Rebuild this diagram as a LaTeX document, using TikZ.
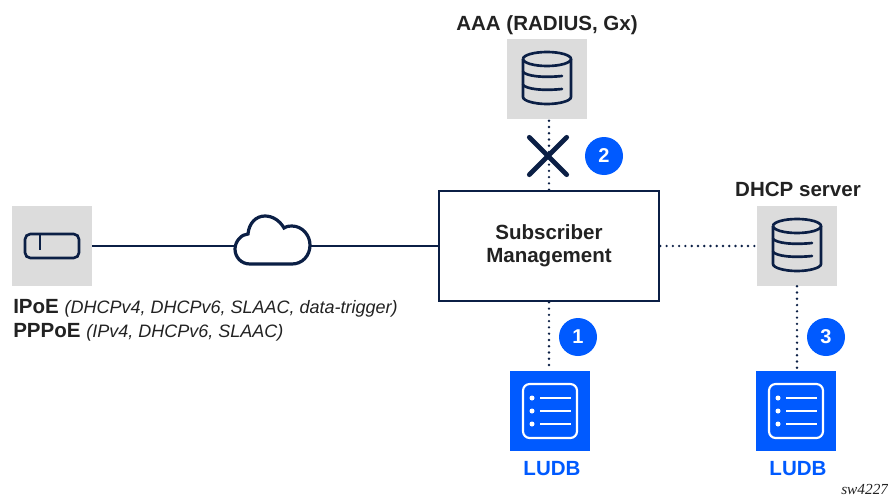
\documentclass[tikz,border=0pt]{standalone}
\usepackage{fontspec}
\setmainfont{Liberation Sans}
\newfontfamily\swfont{Liberation Serif}
\usetikzlibrary{shapes.misc}

\definecolor{navyline}{HTML}{0B1F45}
\definecolor{boxgrey}{HTML}{DCDCDC}
\definecolor{ludbblue}{HTML}{005AFF}
\definecolor{textdark}{HTML}{222222}

\tikzset{
  solidline/.style={draw=navyline,line width=2.2pt},
  dotline/.style={draw=navyline,line width=2pt,line cap=round,dash pattern=on 0pt off 4.7pt},
  greybox/.style={fill=boxgrey,minimum size=60pt,inner sep=0pt},
  bluebox/.style={fill=ludbblue,minimum size=60pt,inner sep=0pt},
  badge/.style={circle,fill=ludbblue,text=white,minimum size=28.5pt,inner sep=0pt,font=\fontsize{15}{17}\selectfont\bfseries},
  title/.style={text=textdark,inner sep=0pt,font=\fontsize{15.4}{17.3}\selectfont\bfseries},
  ludblabel/.style={text=ludbblue,inner sep=0pt,font=\fontsize{15.4}{17.3}\selectfont\bfseries},
  pics/dbicon/.style={code={
    \draw[navyline,line width=2pt] (-24,-20) arc[start angle=180,end angle=-180,x radius=24,y radius=7];
    \draw[navyline,line width=2pt] (-24,-20) -- (-24,18) .. controls (-24,22) and (-12,25) .. (0,25) .. controls (12,25) and (24,22) .. (24,18) -- (24,-20);
    \draw[navyline,line width=2pt,line cap=round] (-24,-7) .. controls (-20,-3) and (-5,-1) .. (15,-3);
    \draw[navyline,line width=2pt,line cap=round] (-24,6) .. controls (-20,10) and (-5,12) .. (15,10);
  }},
  pics/listicon/.style={code={
    \draw[white,line width=1.6pt,rounded corners=5pt] (-27,-27) rectangle (27,27);
    \foreach \rowy in {-13,0,13}{
      \fill[white] (-18,\rowy) circle[radius=2.5];
      \draw[white,line width=1.6pt] (-10,\rowy) -- (21,\rowy);
    }
  }},
}

\begin{document}
\begin{tikzpicture}[x=0.75pt,y=-0.75pt]
  \useasboundingbox (0,0) rectangle (888,496);

  \node[greybox] (aaa) at (547,79) {};
  \node[greybox] (device) at (52,246) {};
  \node[greybox] (dhcp) at (797,246) {};
  \node[bluebox] (ludba) at (550,411) {};
  \node[bluebox] (ludbb) at (796,411) {};
  \node[draw=navyline,line width=2pt,fill=white,minimum width=165pt,minimum height=82.5pt,align=center,title] (subs) at (549,246) {Subscriber\\Management};
  \node[minimum width=56pt,minimum height=36pt,inner sep=0pt] (cloudnd) at (272.5,246) {};

  \path[solidline] (device) edge (cloudnd);
  \path[solidline] (cloudnd) edge (subs);
  \path[dotline] (subs.north) edge (subs.north |- aaa.south);
  \path[dotline] (subs.south) edge (subs.south |- ludba.north);
  \path[dotline] (subs) edge (dhcp);
  \path[dotline] (dhcp) edge (dhcp |- ludbb.north);

  \draw[navyline,line width=2.4pt,fill=white] (250,264) .. controls (241,264) and (235,257) .. (235,249) .. controls (235,241) and (242,234) .. (248,234) .. controls (249,223) and (256,216) .. (265,216) .. controls (273,216) and (280,221) .. (284,228) .. controls (287,226) and (290,226) .. (292,226) .. controls (302,226) and (310,235) .. (310,245) .. controls (310,256) and (302,264) .. (292,264) -- cycle;

  \pic at (aaa) {dbicon};
  \pic at (dhcp) {dbicon};
  \pic at (ludba) {listicon};
  \pic at (ludbb) {listicon};

  \draw[navyline,line width=2pt,rounded corners=4pt] (25,234) rectangle (79,258);
  \draw[navyline,line width=2pt] (40,234) -- (40,250);

  \node[draw=navyline,line width=3.6pt,line cap=round,cross out,minimum size=28pt,inner sep=0pt,outer sep=0pt] (blocked) at (548,156) {};

  \node[badge] (num2) at (604,156) {2};
  \node[badge] (num1) at (578,337) {1};
  \node[badge] (num3) at (826,337) {3};

  \node[title,anchor=base] (aaatxt) at (547,30) {AAA (RADIUS, Gx)};
  \node[title,anchor=base] (dhcptxt) at (798,196) {DHCP server};
  \node[ludblabel,anchor=base] (ludbatxt) at (552,475) {LUDB};
  \node[ludblabel,anchor=base] (ludbbtxt) at (798,475) {LUDB};

  \node[title,anchor=base west] (ipoe) at (13,313) {IPoE {\mdseries\itshape\fontsize{13.5}{15}\selectfont (DHCPv4, DHCPv6, SLAAC, data-trigger)}};
  \node[title,anchor=base west] (pppoe) at (13,337) {PPPoE {\mdseries\itshape\fontsize{13.5}{15}\selectfont (IPv4, DHCPv6, SLAAC)}};

  \node[anchor=base west,inner sep=0pt,text=textdark,font=\swfont\itshape\fontsize{11.5}{13}\selectfont] (swnum) at (841,494) {sw4227};
\end{tikzpicture}
\end{document}
